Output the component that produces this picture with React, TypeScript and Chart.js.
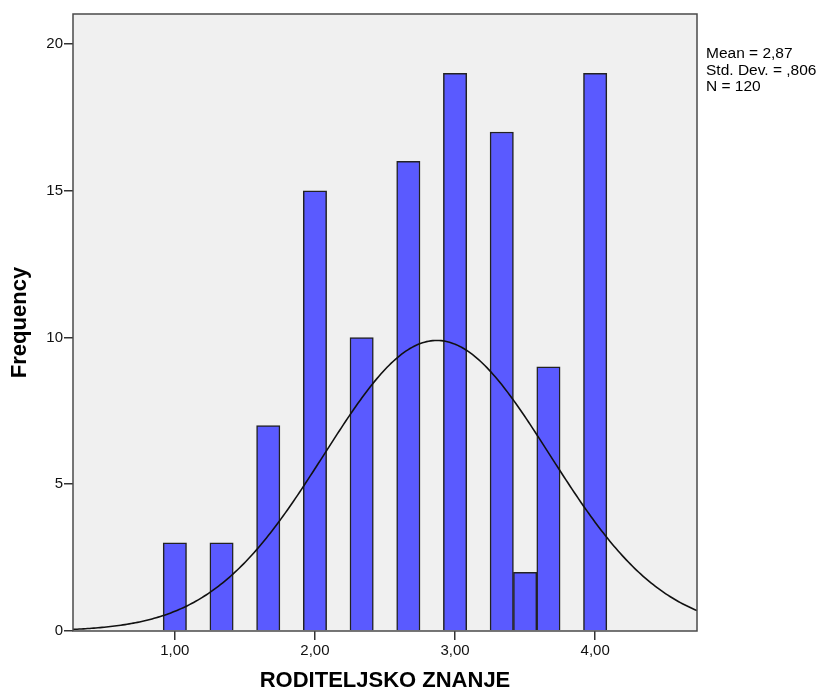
import React, { useEffect, useRef } from "react";
import { Chart, registerables } from "chart.js";

Chart.register(...registerables);

// Histogram bins (bin centers) and frequencies
const binCenters: number[] = [1.0, 4 / 3, 5 / 3, 2.0, 7 / 3, 8 / 3, 3.0, 10 / 3, 3.5, 11 / 3, 4.0];
const frequencies: number[] = [3, 3, 7, 15, 10, 16, 19, 17, 2, 9, 19];

const xTickValues: number[] = [1, 2, 3, 4];
const yTickValues: number[] = [0, 5, 10, 15, 20];

const MEAN = 2.87;
const STD_DEV = 0.806;
const N = 120;
const BIN_WIDTH = 1 / 6;

const statsLines: string[] = ["Mean = 2,87", "Std. Dev. = ,806", "N = 120"];

const X_MIN = 0.273;
const X_MAX = 4.727;
const Y_MAX = 21.02;

function normalCurve(): { x: number; y: number }[] {
  const pts: { x: number; y: number }[] = [];
  const steps = 300;
  for (let i = 0; i <= steps; i++) {
    const x = X_MIN + ((X_MAX - X_MIN) * i) / steps;
    const z = (x - MEAN) / STD_DEV;
    const pdf = Math.exp(-0.5 * z * z) / (STD_DEV * Math.sqrt(2 * Math.PI));
    pts.push({ x, y: N * BIN_WIDTH * pdf });
  }
  return pts;
}

const FONT = "'Liberation Sans', Arial, sans-serif";

export default function App() {
  const canvasRef = useRef<HTMLCanvasElement | null>(null);

  useEffect(() => {
    document.body.style.margin = "0";
    const canvas = canvasRef.current;
    if (!canvas) return;

    const bgPlugin = {
      id: "plotBox",
      beforeDatasetsDraw(chart: any) {
        const { ctx, chartArea } = chart;
        ctx.save();
        ctx.fillStyle = "#F0F0F0";
        ctx.fillRect(chartArea.left, chartArea.top, chartArea.right - chartArea.left, chartArea.bottom - chartArea.top);
        ctx.restore();
      },
      afterDraw(chart: any) {
        const { ctx, chartArea } = chart;
        ctx.save();
        ctx.strokeStyle = "#4a4a4a";
        ctx.lineWidth = 1.5;
        ctx.strokeRect(chartArea.left, chartArea.top, chartArea.right - chartArea.left, chartArea.bottom - chartArea.top);
        ctx.fillStyle = "#000";
        ctx.font = `15.5px ${FONT}`;
        ctx.textBaseline = "middle";
        ctx.textAlign = "left";
        statsLines.forEach((t, i) => {
          ctx.fillText(t, chartArea.right + 9, 54 + i * 16.5);
        });
        ctx.restore();
      },
    };

    const chart = new Chart(canvas, {
      type: "bar",
      data: {
        datasets: [
          {
            type: "line",
            data: normalCurve(),
            borderColor: "#111",
            borderWidth: 1.6,
            pointRadius: 0,
            tension: 0,
            order: 0,
          } as any,
          {
            type: "bar",
            data: binCenters.map((x, i) => ({ x, y: frequencies[i] })),
            backgroundColor: "#5A5AFF",
            borderColor: "#222",
            borderWidth: 1.5,
            barPercentage: 1,
            categoryPercentage: 1,
            order: 1,
          } as any,
        ],
      },
      options: {
        animation: false,
        responsive: false,
        layout: { padding: { top: 14, right: 129, left: 0, bottom: 0 } },
        plugins: { legend: { display: false }, tooltip: { enabled: false } },
        scales: {
          x: {
            type: "linear",
            offset: false,
            min: X_MIN,
            max: X_MAX,
            afterBuildTicks: (scale: any) => {
              scale.ticks = xTickValues.map((v) => ({ value: v }));
            },
            afterFit: (scale: any) => {
              scale.height = 64;
            },
            grid: { display: true, offset: false, drawOnChartArea: false, drawTicks: true, tickLength: 9, color: "#333", lineWidth: 1.5 },
            border: { display: false },
            ticks: {
              autoSkip: false,
              maxRotation: 0,
              padding: 2,
              color: "#111",
              font: { family: FONT, size: 15 },
              callback: (v: any) => Number(v).toFixed(2).replace(".", ","),
            },
            title: {
              display: true,
              text: "RODITELJSKO ZNANJE",
              color: "#000",
              font: { family: FONT, size: 22, weight: "bold" },
              padding: { top: 0, bottom: 1 },
            },
          },
          y: {
            type: "linear",
            min: 0,
            max: Y_MAX,
            afterBuildTicks: (scale: any) => {
              scale.ticks = yTickValues.map((v) => ({ value: v }));
            },
            afterFit: (scale: any) => {
              scale.width = 73;
            },
            grid: { display: true, drawOnChartArea: false, drawTicks: true, tickLength: 9, color: "#333", lineWidth: 1.5 },
            border: { display: false },
            ticks: {
              padding: 1,
              color: "#111",
              font: { family: FONT, size: 15 },
            },
            title: {
              display: true,
              text: "Frequency",
              color: "#000",
              font: { family: FONT, size: 22, weight: "bold" },
              padding: { top: 7, bottom: 0 },
            },
          },
        },
      },
      plugins: [bgPlugin],
    });

    return () => chart.destroy();
  }, []);

  return (
    <div style={{ width: 826, height: 695, position: "relative", background: "#fff" }}>
      <canvas ref={canvasRef} width={826} height={695} style={{ display: "block" }} />
    </div>
  );
}
